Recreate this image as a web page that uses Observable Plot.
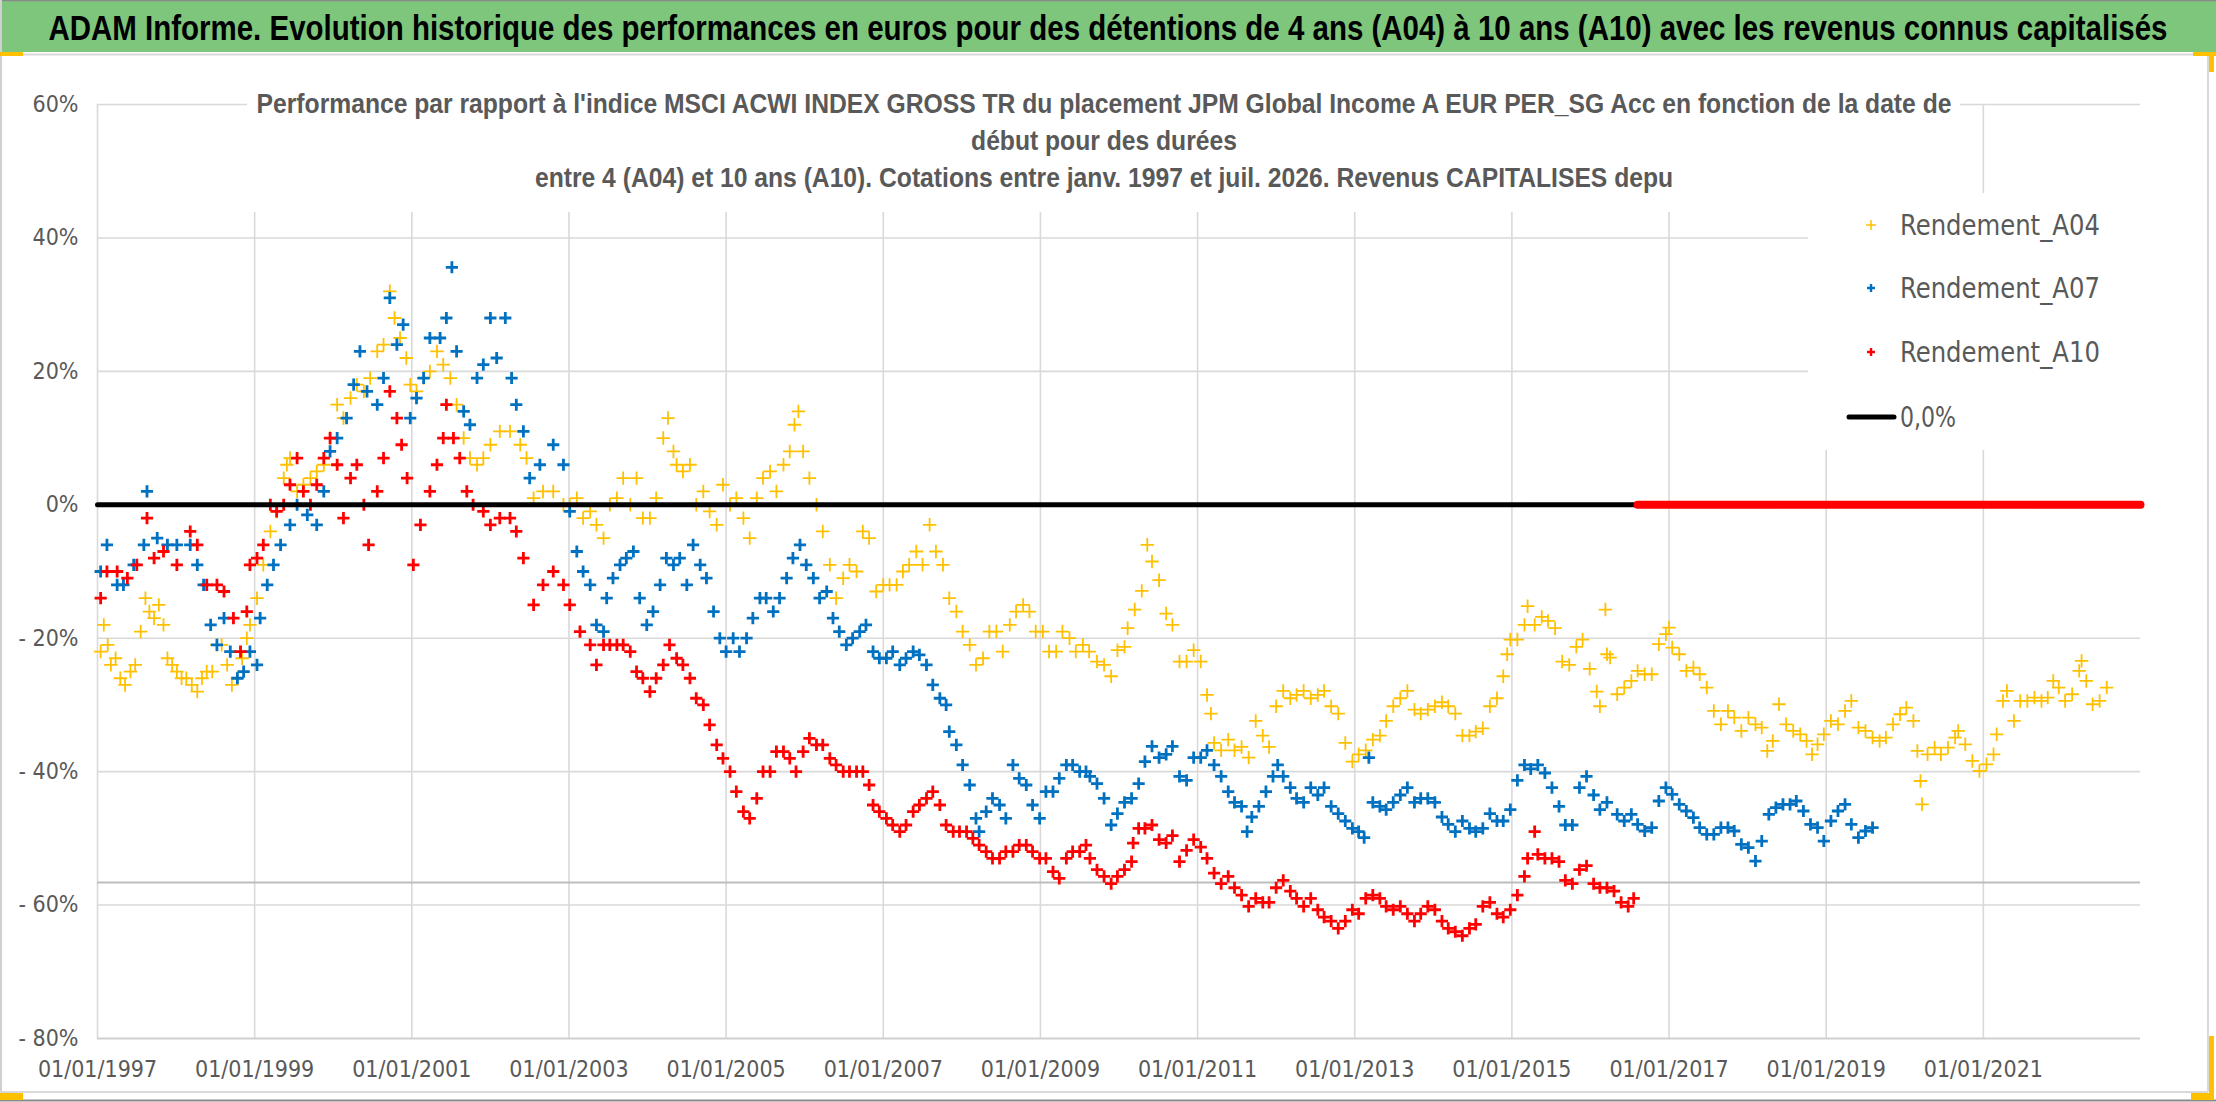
<!DOCTYPE html>
<html>
<head>
<meta charset="utf-8">
<script src="https://cdn.jsdelivr.net/npm/d3@7"></script>
<script src="https://cdn.jsdelivr.net/npm/@observablehq/plot@0.6"></script>
<style>
  html, body { margin: 0; padding: 0; background: #fff; }
  #wrap { position: relative; width: 2216px; height: 1102px; overflow: hidden; background: #fff; }
</style>
</head>
<body>
<div id="wrap"></div>
<script>
// ---------------- DATA ----------------
const titleText = "ADAM Informe. Evolution historique des performances en euros pour des détentions de 4 ans (A04) à 10 ans (A10) avec les revenus connus capitalisés";
const subtitleLines = [
  "Performance par rapport à l'indice MSCI ACWI INDEX GROSS TR  du placement JPM Global Income A EUR PER_SG Acc en fonction de la date de",
  "début pour des durées",
  "entre 4 (A04) et 10 ans (A10). Cotations entre janv. 1997 et juil. 2026. Revenus CAPITALISES depu"
];
const seriesNames = ["Rendement_A04", "Rendement_A07", "Rendement_A10", "0,0%"];
const seriesColors = ["#FFC000", "#0070C0", "#FF0000", "#000000"];

const xTicks = [1997, 1999, 2001, 2003, 2005, 2007, 2009, 2011, 2013, 2015, 2017, 2019, 2021];
const xTickLabels = ["01/01/1997","01/01/1999","01/01/2001","01/01/2003","01/01/2005","01/01/2007","01/01/2009","01/01/2011","01/01/2013","01/01/2015","01/01/2017","01/01/2019","01/01/2021"];
const yTicks = [60, 40, 20, 0, -20, -40, -60, -80];
const yTickLabels = ["60%", "40%", "20%", "0%", "- 20%", "- 40%", "- 60%", "- 80%"];

// start date (decimal year) and performance (%) for 4-year holdings
const a04Years = [1997.04,1997.08,1997.13,1997.17,1997.23,1997.29,1997.35,1997.42,1997.48,1997.55,1997.61,1997.66,1997.72,1997.78,1997.84,1997.89,1997.95,1998.01,1998.07,1998.13,1998.20,1998.27,1998.33,1998.39,1998.46,1998.52,1998.58,1998.65,1998.71,1998.78,1998.84,1998.90,1998.94,1999.03,1999.11,1999.20,1999.28,1999.37,1999.41,1999.45,1999.54,1999.62,1999.71,1999.79,1999.88,1999.96,2000.05,2000.13,2000.22,2000.30,2000.39,2000.47,2000.56,2000.64,2000.72,2000.78,2000.85,2000.93,2000.98,2001.06,2001.15,2001.23,2001.32,2001.40,2001.49,2001.57,2001.66,2001.74,2001.83,2001.91,2002.00,2002.12,2002.25,2002.38,2002.46,2002.55,2002.67,2002.80,2002.93,2003.01,2003.10,2003.18,
2003.27,2003.35,2003.44,2003.52,2003.61,2003.69,2003.78,2003.86,2003.94,2004.03,2004.11,2004.20,2004.26,2004.33,2004.37,2004.45,2004.54,2004.62,2004.71,2004.79,2004.88,2004.96,2005.05,2005.13,2005.22,2005.30,2005.39,2005.47,2005.56,2005.64,2005.73,2005.81,2005.87,2005.92,2005.98,2006.06,2006.15,2006.23,2006.32,2006.40,2006.49,2006.57,2006.66,2006.74,2006.82,2006.91,2007.00,2007.08,2007.17,2007.25,2007.33,2007.42,2007.50,2007.59,2007.67,2007.76,2007.84,2007.93,2008.01,2008.10,2008.18,2008.27,2008.35,2008.44,2008.52,2008.61,2008.69,2008.78,2008.86,2008.94,2009.03,2009.11,2009.20,2009.28,2009.37,2009.45,2009.54,2009.62,
2009.72,2009.81,2009.90,2009.98,2010.07,2010.11,2010.20,2010.29,2010.36,2010.42,2010.51,2010.60,2010.68,2010.77,2010.86,2010.95,2011.04,2011.12,2011.17,2011.21,2011.30,2011.39,2011.47,2011.56,2011.65,2011.74,2011.83,2011.91,2012.00,2012.09,2012.18,2012.26,2012.35,2012.44,2012.53,2012.61,2012.70,2012.79,2012.88,2012.97,2013.05,2013.14,2013.23,2013.32,2013.40,2013.49,2013.58,2013.67,2013.76,2013.84,2013.93,2014.02,2014.11,2014.19,2014.28,2014.37,2014.46,2014.54,2014.63,2014.72,2014.81,2014.89,2014.94,2014.98,2015.07,2015.16,2015.20,2015.29,2015.38,2015.46,2015.55,2015.64,2015.73,2015.82,2015.90,2015.99,2016.08,2016.12,2016.19,2016.21,
2016.25,2016.34,2016.43,2016.52,2016.60,2016.69,2016.78,2016.87,2016.96,2017.00,2017.04,2017.13,2017.22,2017.31,2017.39,2017.48,2017.57,2017.66,2017.75,2017.83,2017.92,2018.01,2018.10,2018.18,2018.25,2018.32,2018.40,2018.49,2018.58,2018.67,2018.75,2018.82,2018.89,2018.97,2019.06,2019.15,2019.24,2019.32,2019.41,2019.50,2019.59,2019.68,2019.76,2019.85,2019.94,2020.02,2020.11,2020.16,2020.20,2020.22,2020.29,2020.38,2020.46,2020.55,2020.64,2020.68,2020.77,2020.86,2020.95,2021.04,2021.13,2021.17,2021.25,2021.30,2021.39,2021.47,2021.56,2021.65,2021.74,2021.82,2021.89,2021.96,2022.04,2022.13,2022.22,2022.25,2022.31,2022.39,2022.48,2022.57];
const a04Values = [-22,-18,-21,-24,-23,-26,-27,-25,-24,-19,-14,-16,-17,-15,-18,-23,-24,-25,-26,-26,-27,-28,-26,-25,-25,-21,-21,-24,-27,-26,-23,-20,-18,-14,-9,-4,-1,4,6,7,2,3,4,5,6,10,15,13,16,18,17,19,23,24,32,28,25,22,18,17,19,20,23,21,19,15,10,7,6,7,9,11,11,9,7,1,2,2,0,0,1,-2,
-1,-3,-5,0,1,4,0,4,-2,-2,1,10,13,8,6,5,6,0,2,-1,-3,3,0,1,-2,-5,1,4,5,2,6,8,12,14,8,4,0,-4,-9,-14,-11,-9,-10,-4,-5,-13,-12,-12,-12,-10,-9,-7,-9,-3,-7,-9,-14,-16,-19,-21,-24,-23,-19,-19,-22,-18,-16,-15,-16,-19,-19,-22,-22,-19,-20,-22,-21,-22,
-23.5,-24,-25.7,-21.8,-21.3,-18.5,-15.7,-12.9,-6,-8.5,-11.3,-16.3,-18,-23.5,-23.5,-21.8,-23.5,-28.5,-31.3,-35.7,-36.8,-35.2,-36.8,-36.3,-37.9,-32.4,-34.6,-36.3,-30.2,-27.9,-29,-28.5,-27.9,-29,-28.5,-27.9,-30.2,-31.3,-35.7,-38.5,-37.4,-36.8,-35.2,-34.6,-32.4,-30.2,-29,-27.9,-30.7,-31.3,-30.7,-30.2,-29.6,-30.2,-31.3,-34.6,-34.6,-34,-33.5,-30.2,-29,-25.7,-22.4,-20.2,-20.2,-18,-15.2,-18,-16.8,-17.4,-18.5,-23.5,-24,-21.3,-20.2,-24.6,-28,-30.2,-15.7,-22.4,
-22.9,-28.4,-27.4,-26.4,-24.9,-25.4,-25.4,-20.9,-19.4,-18.4,-21.4,-22.4,-24.9,-24.4,-25.4,-27.4,-30.9,-32.9,-30.9,-31.9,-33.9,-31.9,-32.9,-33.4,-36.9,-35.4,-29.9,-32.9,-33.9,-34.4,-35.4,-37.4,-35.9,-34.4,-32.4,-32.9,-30.9,-29.4,-33.4,-33.9,-34.9,-35.4,-34.9,-32.9,-31.4,-30.4,-32.4,-36.9,-41.4,-44.9,-37.4,-36.4,-37.4,-36.4,-34.9,-33.9,-35.9,-38.4,-39.9,-38.9,-37.4,-34.4,-29.4,-27.9,-32.4,-29.4,-29.4,-28.9,-29.4,-28.9,-26.4,-27.4,-29.4,-28.4,-24.9,-23.4,-26.4,-29.9,-29.4,-27.4];

// 7-year holdings
const a07Years = [1997.04,1997.12,1997.25,1997.33,1997.46,1997.59,1997.63,1997.76,1997.89,1998.01,1998.18,1998.27,1998.35,1998.44,1998.52,1998.61,1998.69,1998.78,1998.86,1998.94,1999.03,1999.07,1999.16,1999.24,1999.33,1999.45,1999.54,1999.67,1999.79,1999.88,1999.96,2000.05,2000.17,2000.26,2000.34,2000.43,2000.56,2000.64,2000.72,2000.81,2000.89,2000.98,2001.06,2001.15,2001.23,2001.36,2001.44,2001.51,2001.57,2001.66,2001.74,2001.83,2001.91,2002.00,2002.08,2002.19,2002.27,2002.33,2002.42,2002.50,2002.63,2002.80,2002.93,2003.01,2003.10,2003.18,2003.27,
2003.35,2003.44,2003.48,2003.56,2003.65,2003.73,2003.82,2003.90,2003.99,2004.07,2004.16,2004.24,2004.33,2004.41,2004.50,2004.58,2004.67,2004.75,2004.84,2004.92,2005.00,2005.09,2005.17,2005.26,2005.34,2005.43,2005.51,2005.60,2005.68,2005.77,2005.85,2005.94,2006.02,2006.11,2006.19,2006.28,2006.36,2006.44,2006.53,2006.61,2006.70,2006.78,2006.87,2006.95,2007.04,2007.12,2007.21,2007.29,2007.38,2007.46,2007.55,2007.63,2007.72,2007.80,2007.84,2007.93,2008.01,2008.10,2008.18,2008.22,2008.31,2008.39,2008.48,2008.56,2008.65,2008.73,2008.82,2008.90,2008.99,2009.07,2009.16,2009.24,2009.33,2009.41,2009.50,2009.58,
2009.63,2009.72,2009.81,2009.90,2009.98,2010.07,2010.16,2010.25,2010.33,2010.42,2010.51,2010.60,2010.68,2010.77,2010.86,2010.95,2011.04,2011.12,2011.21,2011.30,2011.39,2011.47,2011.56,2011.63,2011.69,2011.78,2011.87,2011.96,2012.02,2012.09,2012.18,2012.26,2012.35,2012.44,2012.53,2012.61,2012.70,2012.79,2012.88,2012.97,2013.05,2013.12,2013.18,2013.23,2013.32,2013.40,2013.49,2013.58,2013.67,2013.76,2013.84,2013.93,2014.02,2014.11,2014.19,2014.28,2014.37,2014.46,2014.54,2014.63,2014.72,2014.81,2014.89,2014.98,2015.07,2015.16,2015.24,2015.33,2015.42,2015.51,2015.60,2015.68,2015.77,2015.86,2015.95,2016.04,2016.12,2016.21,
2016.34,2016.43,2016.52,2016.60,2016.69,2016.78,2016.87,2016.96,2017.04,2017.13,2017.22,2017.31,2017.39,2017.48,2017.57,2017.66,2017.75,2017.83,2017.92,2018.01,2018.10,2018.18,2018.27,2018.36,2018.45,2018.54,2018.62,2018.71,2018.80,2018.89,2018.97,2019.06,2019.15,2019.24,2019.32,2019.41,2019.50,2019.59];
const a07Values = [-10,-6,-12,-12,-9,-6,2,-5,-6,-6,-6,-9,-12,-18,-21,-17,-22,-26,-25,-22,-24,-17,-12,-9,-6,-3,0,-1.5,-3,2,8,10,13,18,23,17,15,19,31,24,27,13,16,19,25,25,28,35.6,23,14,12,19,21,28,22,28,19,15,11,4,6,9,6,-1,-7,-10,-12,
-18,-19,-14,-11,-9,-8,-7,-14,-18,-16,-12,-8,-9,-8,-12,-6,-9,-11,-16,-20,-22,-20,-22,-20,-17,-14,-14,-16,-14,-11,-8,-6,-9,-11,-14,-13,-17,-19,-21,-20,-19,-18,-22,-23,-23,-22,-24,-23,-22,-22.5,-24,-27,-29,-30,-34,-36,-39,-42,-47,-49,-46,-44,-45,-47,-39,-41,-42,-45,-47,-43,-43,-41,-39,-39,-40,-40,
-40.7,-41.8,-44,-48,-46.3,-44.6,-44,-41.8,-38.5,-36.2,-37.9,-37.4,-36.2,-40.7,-41.3,-37.9,-37.9,-36.8,-39,-40.7,-43,-44.6,-45.2,-49,-46.8,-45.2,-43,-40.7,-39,-40.7,-42.4,-44,-44.6,-42.4,-43.5,-42.4,-45.2,-46.3,-47.4,-48.5,-49,-49.9,-37.9,-44.6,-45.2,-45.7,-44.6,-43.5,-42.4,-44.6,-44,-44,-44.6,-46.8,-47.9,-49,-47.4,-48.5,-49,-48.5,-46.3,-47.4,-47.4,-45.7,-41.3,-39,-39.6,-39,-40.2,-42.4,-45.2,-48,-48,-42.4,-40.7,-43.5,-45.7,-44.6,
-46.4,-47.4,-46.4,-47.9,-48.9,-48.4,-44.4,-42.4,-43.4,-44.9,-45.9,-46.9,-48.4,-49.4,-49.4,-48.4,-48.4,-48.9,-50.9,-51.4,-53.4,-50.4,-46.4,-45.4,-44.9,-44.9,-44.4,-45.9,-47.9,-48.4,-50.4,-47.4,-45.9,-44.9,-47.9,-49.9,-48.9,-48.4];

// 10-year holdings
const a10Years = [1997.04,1997.12,1997.25,1997.38,1997.50,1997.63,1997.72,1997.84,1998.01,1998.18,1998.27,1998.39,1998.52,1998.61,1998.73,1998.82,1998.90,1998.94,1999.03,1999.11,1999.20,1999.28,1999.37,1999.45,1999.54,1999.62,1999.71,1999.79,1999.88,1999.96,2000.05,2000.13,2000.22,2000.30,2000.39,2000.45,2000.56,2000.64,2000.72,2000.81,2000.87,2000.94,2001.02,2001.11,2001.23,2001.32,2001.40,2001.44,2001.53,2001.61,2001.70,2001.78,2001.91,2002.00,2002.12,2002.25,2002.33,2002.42,2002.55,2002.67,2002.80,2002.93,2003.01,2003.14,2003.27,
2003.35,2003.44,2003.52,2003.61,2003.69,2003.78,2003.86,2003.94,2004.03,2004.11,2004.20,2004.28,2004.37,2004.45,2004.54,2004.62,2004.71,2004.79,2004.88,2004.96,2005.05,2005.13,2005.22,2005.30,2005.39,2005.47,2005.56,2005.64,2005.73,2005.81,2005.89,2005.98,2006.06,2006.15,2006.23,2006.32,2006.40,2006.49,2006.57,2006.66,2006.74,2006.82,2006.87,2006.95,2007.04,2007.12,2007.21,2007.29,2007.38,2007.46,2007.55,2007.63,2007.72,2007.80,2007.89,2007.97,2008.06,2008.14,2008.22,2008.31,2008.39,2008.48,2008.56,2008.65,2008.73,2008.82,2008.90,2008.99,2009.07,2009.16,2009.24,2009.33,2009.41,2009.50,2009.58,
2009.63,2009.72,2009.81,2009.90,2009.98,2010.07,2010.16,2010.18,2010.25,2010.33,2010.42,2010.51,2010.60,2010.68,2010.77,2010.86,2010.95,2011.04,2011.12,2011.21,2011.30,2011.39,2011.47,2011.56,2011.65,2011.74,2011.83,2011.91,2012.00,2012.09,2012.18,2012.26,2012.35,2012.44,2012.53,2012.61,2012.70,2012.79,2012.88,2012.97,2013.05,2013.14,2013.23,2013.32,2013.40,2013.49,2013.58,2013.67,2013.76,2013.84,2013.93,2014.02,2014.11,2014.19,2014.28,2014.37,2014.46,2014.54,2014.63,2014.72,2014.81,2014.89,2014.98,2015.07,2015.16,2015.20,2015.29,2015.33,2015.42,2015.51,2015.60,2015.68,2015.77,2015.86,2015.95,2016.04,2016.12,2016.21,2016.30,2016.39,2016.48,2016.55];
const a10Values = [-14,-10,-10,-11,-9,-2,-8,-7,-9,-4,-6,-12,-12,-13,-17,-22,-16,-9,-8,-6,0,-1,0,3,7,2,0,3,7,10,6,-2,4,6,0,-6,2,7,17,13,9,4,-9,-3,2,6,10,15,10,7,2,0,-1,-3,-2,-2,-4,-8,-15,-12,-10,-12,-15,-19,-21,
-24,-21,-21,-21,-21,-22,-25,-26,-28,-26,-24,-21,-23,-24,-26,-29,-30,-33,-36,-38,-40,-43,-46,-47,-44,-40,-40,-37,-37,-38,-40,-37,-35,-36,-36,-38,-39,-40,-40,-40,-40,-42,-45,-46,-47,-48,-49,-48,-46,-45,-44,-43,-45,-48,-49,-49,-49,-50,-51,-52,-53,-53,-52,-52,-51,-51,-52,-53,-53,-55,-56,-53,-52,-52,-51,
-53,-54.7,-55.7,-56.8,-55.7,-54.7,-53.5,-50.7,-48.5,-48.5,-48,-50.2,-50.7,-49.6,-53.5,-51.8,-50.2,-51.3,-53,-55.2,-56.8,-55.7,-57.4,-58.5,-60.2,-59,-59.6,-59.6,-57.4,-56.3,-57.9,-59,-60.2,-59,-60.7,-61.8,-62.4,-63.5,-62.4,-60.7,-61.3,-59,-58.5,-59,-60.2,-60.7,-60.2,-61.3,-62.4,-61.3,-60.2,-60.7,-62.4,-63.5,-64,-64.6,-63.5,-62.9,-60.2,-59.6,-61.3,-61.8,-60.7,-58.5,-55.7,-53,-49,-52.4,-53,-53,-53.5,-56.3,-56.8,-54.7,-54.1,-56.8,-57.4,-57.4,-57.9,-59.6,-60.2,-59];

// 0,0% reference line (black) and A10 zero values after the end of its data (red)
const zeroLineYears = [1997.0, 2016.58];
const zeroLineValues = [0, 0];
const a10ZeroYears = [2016.6, 2023.0];
const a10ZeroValues = [0, 0];
// grey horizontal reference line
const refLevel = -56.6;

// ---------------- BUILD ----------------
const toRows = (xs, ys) => xs.map((x, i) => ({x, y: ys[i]}));
const a04 = toRows(a04Years, a04Values);
const a07 = toRows(a07Years, a07Values);
const a10 = toRows(a10Years, a10Values);
const zeroLine = toRows(zeroLineYears, zeroLineValues);
const a10Zero = toRows(a10ZeroYears, a10ZeroValues);

const FONT = "'Liberation Sans Narrow','DejaVu Sans Condensed','Roboto Condensed','Liberation Sans',Arial,sans-serif";
const GRID = "#d9d9d9";

const chart = Plot.plot({
  width: 2216,
  height: 1102,
  marginLeft: 97,
  marginRight: 76,
  marginTop: 104,
  marginBottom: 64,
  style: {fontFamily: FONT, fontSize: "23px", color: "#595959", background: "transparent", overflow: "visible"},
  x: {type: "linear", domain: [1997, 2023]},
  y: {domain: [-80, 60]},
  marks: [
    Plot.ruleY(yTicks.filter(d => d !== -80), {stroke: GRID, strokeWidth: 1.6}),
    Plot.ruleX(xTicks, {stroke: GRID, strokeWidth: 1.6}),
    Plot.ruleY([-80], {stroke: "#d0d0d0", strokeWidth: 2.2}),
    Plot.ruleY([refLevel], {stroke: "#bdbdbd", strokeWidth: 2}),
    Plot.dot(a04, {x: "x", y: "y", symbol: "plus", r: 4.4, stroke: seriesColors[0], strokeWidth: 1.8}),
    Plot.dot(a07, {x: "x", y: "y", symbol: "plus", r: 4.0, stroke: seriesColors[1], strokeWidth: 2.8}),
    Plot.dot(a10, {x: "x", y: "y", symbol: "plus", r: 4.0, stroke: seriesColors[2], strokeWidth: 2.8}),
    Plot.line(zeroLine, {x: "x", y: "y", stroke: seriesColors[3], strokeWidth: 5, strokeLinecap: "round"}),
    Plot.line(a10Zero, {x: "x", y: "y", stroke: seriesColors[2], strokeWidth: 8}),
    Plot.axisY(yTicks, {tickSize: 0, tickPadding: 19, fontSize: 23, tickFormat: d => yTickLabels[yTicks.indexOf(d)], label: null}),
    Plot.axisX(xTicks, {tickSize: 0, tickPadding: 22, fontSize: 23, tickFormat: d => xTickLabels[xTicks.indexOf(d)], label: null})
  ]
});
chart.style.position = "absolute";
chart.style.left = "0px";
chart.style.top = "0px";

const wrap = document.getElementById("wrap");
wrap.appendChild(chart);

const NS = "http://www.w3.org/2000/svg";
// overlay svg for title, subtitle, legend
const ov = document.createElementNS(NS, "svg");
ov.setAttribute("width", 2216);
ov.setAttribute("height", 1102);
ov.style.position = "absolute";
ov.style.left = "0px";
ov.style.top = "0px";
wrap.appendChild(ov);
function el(name, attrs, text, parent) {
  const e = document.createElementNS(NS, name);
  for (const k in attrs) e.setAttribute(k, attrs[k]);
  if (text != null) e.textContent = text;
  (parent || ov).appendChild(e);
  return e;
}
// text squeezed horizontally to a given width (like the condensed original font)
function fitText(str, cx, y, w, attrs, anchor) {
  const g = el("g", {});
  const t = el("text", Object.assign({x: 0, y, "text-anchor": anchor || "middle"}, attrs), str, g);
  const n = t.getComputedTextLength();
  const k = n > 0 ? Math.min(1, w / n) : 1;
  g.setAttribute("transform", `translate(${cx},0) scale(${k},1)`);
  return k;
}

// title bar
el("rect", {x: 0, y: 0, width: 2216, height: 52, fill: "#7dc67c"});
el("line", {x1: 0, y1: 0.5, x2: 2216, y2: 0.5, stroke: "#8a8a8a", "stroke-width": 1.5});
el("line", {x1: 0, y1: 54.5, x2: 2208, y2: 54.5, stroke: "#d9d9d9", "stroke-width": 2});
fitText(titleText, 1108, 40, 2120, {"font-family": "'Liberation Sans',Arial,sans-serif", "font-weight": "bold", "font-size": 35, fill: "#000"});

// subtitle box
el("rect", {x: 247, y: 84, width: 1713, height: 128, fill: "#fff"});
const subY = [113, 150, 187];
const subG = el("g", {});
const subTexts = subtitleLines.map((t, i) =>
  el("text", {x: 0, y: subY[i], "text-anchor": "middle", "font-family": "'Liberation Sans',Arial,sans-serif", "font-weight": "bold", "font-size": 28, fill: "#595959"}, t, subG));
const natural = subTexts[0].getComputedTextLength();
const ks = natural > 0 ? 1696 / natural : 1;
subG.setAttribute("transform", `translate(1104,0) scale(${ks},1)`);

// legend box
el("rect", {x: 1808, y: 193, width: 333, height: 257, fill: "#fff"});
const legY = [225, 288, 352, 417];
seriesNames.forEach((name, i) => {
  if (i < 3) {
    const s = i === 0 ? 5 : 4;
    const sw = i === 0 ? 1.5 : 2.4;
    el("path", {d: `M${1871 - s},${legY[i]}H${1871 + s}M1871,${legY[i] - s}V${legY[i] + s}`, stroke: seriesColors[i], "stroke-width": sw, fill: "none"});
  } else {
    el("line", {x1: 1849, y1: legY[i], x2: 1894, y2: legY[i], stroke: "#000", "stroke-width": 5, "stroke-linecap": "round"});
  }
  fitText(name, 1900, legY[i] + 10, i < 3 ? 200 : 56, {"font-family": FONT, "font-size": 29, fill: "#595959"}, "start");
});

// outer frame
el("line", {x1: 1, y1: 0, x2: 1, y2: 1100, stroke: "#d0d0d0", "stroke-width": 2});
el("line", {x1: 2208, y1: 55, x2: 2208, y2: 1092, stroke: "#d9d9d9", "stroke-width": 2});
el("line", {x1: 0, y1: 1092, x2: 2208, y2: 1092, stroke: "#d9d9d9", "stroke-width": 2});
el("line", {x1: 0, y1: 1100.5, x2: 2216, y2: 1100.5, stroke: "#8a8a8a", "stroke-width": 2});
// selection handles
const handles = [[0, 52, 23, 4], [0, 1093, 23, 7], [2191, 1093, 23, 7], [2209, 1036, 5, 64], [2193, 52, 23, 4], [2209, 52, 5, 20]];
handles.forEach(([x, y, w, h]) => el("rect", {x, y, width: w, height: h, fill: "#ffc000"}));
</script>
</body>
</html>
